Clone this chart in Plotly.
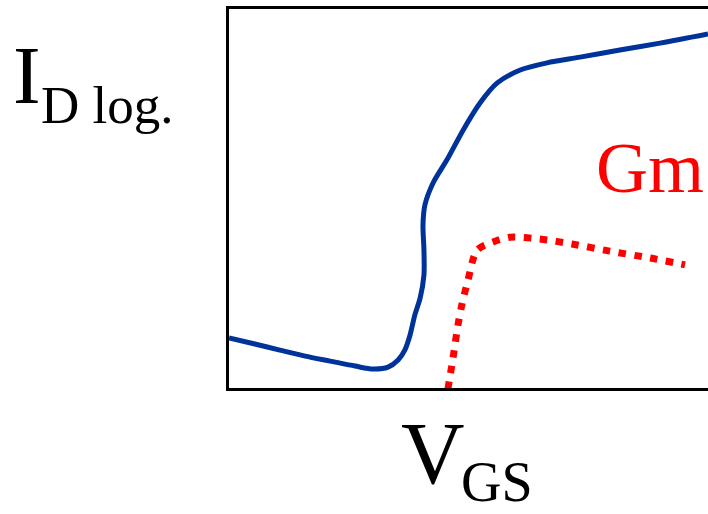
import plotly.graph_objects as go

# Drain current (log scale, arbitrary units) versus gate-source voltage
vgs_id = [0.00, 0.54, 1.06, 1.59, 2.11, 2.63, 3.01, 3.32, 3.53, 3.67, 3.78, 3.88, 3.99,
          4.07, 4.07, 4.05, 4.09, 4.26, 4.55, 4.89, 5.24, 5.60, 6.08, 6.64, 7.33, 8.16,
          9.00, 10.00]
id_log = [1.32, 1.16, 1.00, 0.84, 0.71, 0.58, 0.50, 0.55, 0.74, 1.00, 1.40, 1.93, 2.37,
          2.98, 3.64, 4.30, 4.83, 5.41, 6.02, 6.81, 7.52, 8.05, 8.39, 8.58, 8.73, 8.92,
          9.10, 9.34]

# Transconductance (arbitrary units)
vgs_gm = [4.57, 4.68, 4.78, 4.86, 4.99, 5.18, 5.51, 5.87, 6.49, 7.16, 7.95, 8.79, 9.52]
gm = [-0.03, 0.82, 1.66, 2.19, 2.85, 3.64, 3.85, 3.98, 3.93, 3.80, 3.61, 3.43, 3.25]

SERIF = "Liberation Serif"
BLUE = "#003399"
RED = "#ff0000"

fig = go.Figure()
fig.add_trace(go.Scatter(
    x=vgs_id, y=id_log, mode="lines",
    line=dict(color=BLUE, width=5, shape="spline", smoothing=0.8),
    hoverinfo="skip",
))
fig.add_trace(go.Scatter(
    x=vgs_gm, y=gm, mode="lines",
    line=dict(color=RED, width=7, shape="spline", smoothing=0.8, dash="7.5px,8.5px"),
    hoverinfo="skip",
))

labels = [
    dict(text="I", x=-0.456, y=0.9525, size=83, color="black", pad=1),
    dict(text="D log.", x=-0.397, y=0.829, size=53, color="black", pad=1),
    dict(text="V", x=0.354, y=-0.0385, size=88, color="black", pad=1),
    dict(text="GS", x=0.485, y=-0.1665, size=56, color="black", pad=0),
    dict(text="Gm", x=0.762, y=0.692, size=72, color=RED, pad=1),
]
for lab in labels:
    fig.add_annotation(
        text=lab["text"], x=lab["x"], y=lab["y"], xref="paper", yref="paper",
        xanchor="left", yanchor="top", showarrow=False,
        borderpad=lab["pad"], borderwidth=lab["pad"],
        font=dict(family=SERIF, size=lab["size"], color=lab["color"]),
    )

fig.update_layout(
    width=708, height=514,
    margin=dict(l=229, r=0, t=9, b=126),
    paper_bgcolor="white", plot_bgcolor="white",
    showlegend=False,
    xaxis=dict(range=[0, 10], showgrid=False, zeroline=False, showticklabels=False,
               ticks="", showline=True, mirror=True, linecolor="black", linewidth=3),
    yaxis=dict(range=[0, 10], showgrid=False, zeroline=False, showticklabels=False,
               ticks="", showline=True, linecolor="black", linewidth=3),
)

fig.write_html("out.html")
